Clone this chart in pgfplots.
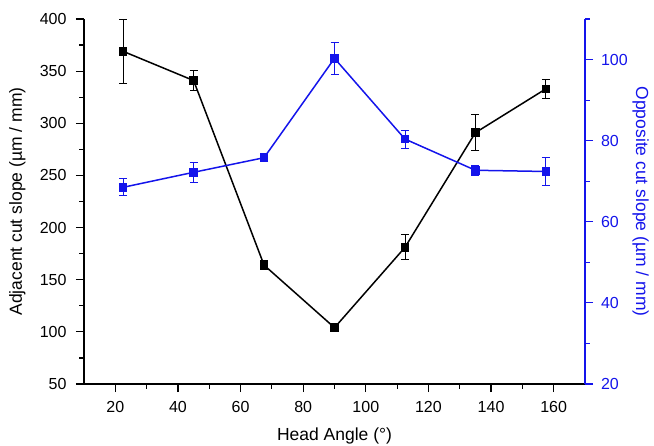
\documentclass[border=0pt]{standalone}
\usepackage{pgfplots}
\pgfplotsset{compat=1.18}
\usepackage{pgfplotstable}
\usepackage{fontspec}
\setmainfont{Liberation Sans}
\definecolor{oppblue}{RGB}{20,20,235}

\pgfplotstableread{
x y e
22.5 369 31
45 341 9.5
67.5 164 4
90 104 2
112.5 181 12
135 291 17.5
157.5 333 9.5
}\adjacent

\pgfplotstableread{
x y e
22.5 68.5 2.1
45 72.2 2.4
67.5 75.8 1
90 100.3 4
112.5 80.4 2.2
135 72.7 1.2
157.5 72.4 3.4
}\opposite

\pgfplotsset{
  common/.style={
    scale only axis, width=501pt, height=365pt,
    xmin=10, xmax=170,
    label style={font=\fontsize{17.5}{21}\selectfont},
    tick label style={font=\fontsize{16}{19}\selectfont},
    /pgf/number format/assume math mode=true,
    major tick length=8pt, minor tick length=4.5pt,
    axis line style={line width=1.6pt},
    every tick/.style={line width=1.2pt},
  }
}

\begin{document}
\begin{tikzpicture}
\path[use as bounding box] (-84pt,-61pt) rectangle (570pt,384pt);
\begin{axis}[common,
  axis x line*=bottom, axis y line*=left,
  tick align=outside,
  ymin=50, ymax=400,
  xtick={20,40,...,160},
  minor xtick={30,50,...,150},
  ytick={50,100,...,400},
  minor ytick={75,125,...,375},
  xlabel={Head Angle (°)},
  ylabel={Adjacent cut slope (µm / mm)},
  xlabel style={yshift=-8pt},
  ylabel style={yshift=7.5pt},
  xticklabel style={yshift=-6pt},
  yticklabel style={xshift=-6pt},
]
\addplot[black, line width=1.5pt, mark=square*, mark size=3.6pt,
  error bars/.cd, y dir=both, y explicit,
  error bar style={line width=0.9pt, black},
  error mark options={rotate=90, mark size=4pt, line width=0.9pt}]
  table[x=x, y=y, y error=e] {\adjacent};
\end{axis}
\begin{axis}[common,
  axis x line=none, axis y line*=right,
  tick align=outside,
  ymin=20, ymax=110,
  ytick={20,40,...,100},
  minor ytick={30,50,...,110},
  ylabel={Opposite cut slope (µm / mm)},
  ylabel style={rotate=180, oppblue, yshift=-2pt},
  y axis line style={oppblue},
  ytick style={oppblue},
  yticklabel style={oppblue, xshift=4.5pt},
]
\addplot[oppblue, line width=1.5pt, mark=square*, mark size=3.6pt,
  error bars/.cd, y dir=both, y explicit,
  error bar style={line width=0.9pt, oppblue},
  error mark options={rotate=90, mark size=4pt, line width=0.9pt}]
  table[x=x, y=y, y error=e] {\opposite};
\end{axis}
\end{tikzpicture}
\end{document}
